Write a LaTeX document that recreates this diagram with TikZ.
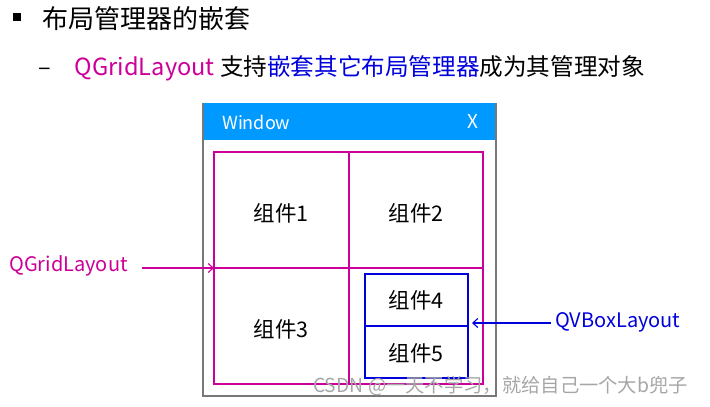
\documentclass[tikz,border=0pt]{standalone}
\usepackage{fontspec}
\setmainfont{Noto Sans CJK SC}
\usetikzlibrary{arrows.meta}
\definecolor{mag}{RGB}{204,0,153}
\definecolor{blu}{RGB}{0,0,220}
\definecolor{titlebar}{RGB}{0,153,255}
\definecolor{winborder}{RGB}{120,120,120}
\begin{document}
\begin{tikzpicture}[x=1pt,y=-1pt,
  cell/.style={font=\fontsize{21.5}{23}\selectfont},
  lbl/.style={font=\fontsize{20}{22}\selectfont, anchor=west, inner sep=0pt},
  frame/.style={line width=1.3pt},
  arr/.style={-{Straight Barb[length=5pt,width=9pt]}, line width=1.1pt}]
\useasboundingbox (0,0) rectangle (710,407);
% heading
\fill (13,13) rectangle (21,21);
\node[anchor=west, inner sep=0pt, font=\fontsize{26}{28}\selectfont] (head) at (42,19) {布局管理器的嵌套};
\node[anchor=west, inner sep=0pt, font=\fontsize{23.6}{26}\selectfont] (sub) at (38,68)
  {–\hspace{24pt}\textcolor{mag}{QGridLayout} 支持\textcolor{blu}{嵌套其它布局管理器}成为其管理对象};
% window
\fill[titlebar] (203,103) rectangle (496,140);
\draw[winborder, line width=1.3pt] (203,103) -- (203,396) -- (496,396) -- (496,103);
\node[anchor=west, white, font=\fontsize{18}{20}\selectfont, inner sep=0pt] (wt) at (222,122) {Window};
\node[white, font=\fontsize{19}{21}\selectfont, inner sep=0pt] (wx) at (473,122) {X};
% grid
\draw[mag, frame] (214,152) rectangle (483,384);
\coordinate (gl) at (214,268);
\coordinate (gr) at (483,268);
\coordinate (gt) at (349,152);
\coordinate (gb) at (349,384);
\draw[mag, frame] (gl) -- (gr);
\draw[mag, frame] (gt) -- (gb);
\node[cell] (c1) at (281,213) {组件1};
\node[cell] (c2) at (416,213) {组件2};
\node[cell] (c3) at (281,329) {组件3};
% vbox
\draw[blu, frame] (365,274) rectangle (468,378);
\coordinate (vl) at (365,326);
\coordinate (vr) at (468,326);
\draw[blu, frame] (vl) -- (vr);
\node[cell] (c4) at (416,300) {组件4};
\node[cell] (c5) at (416,353) {组件5};
% labels
\node[lbl, mag] (ql) at (9,266) {QGridLayout};
\coordinate (qla) at (142,268);
\draw[arr, mag] (qla) -- (gl);
\node[lbl, blu] (qv) at (555,322) {QVBoxLayout};
\coordinate (qva) at (551,323);
\coordinate (qvb) at (472,323);
\draw[arr, blu] (qva) -- (qvb);
% watermark
\node[anchor=west, inner sep=0pt, text=black!35, font=\fontsize{19.3}{21}\selectfont] (wm) at (313,386) {CSDN @一天不学习，就给自己一个大b兜子};
\end{tikzpicture}
\end{document}
